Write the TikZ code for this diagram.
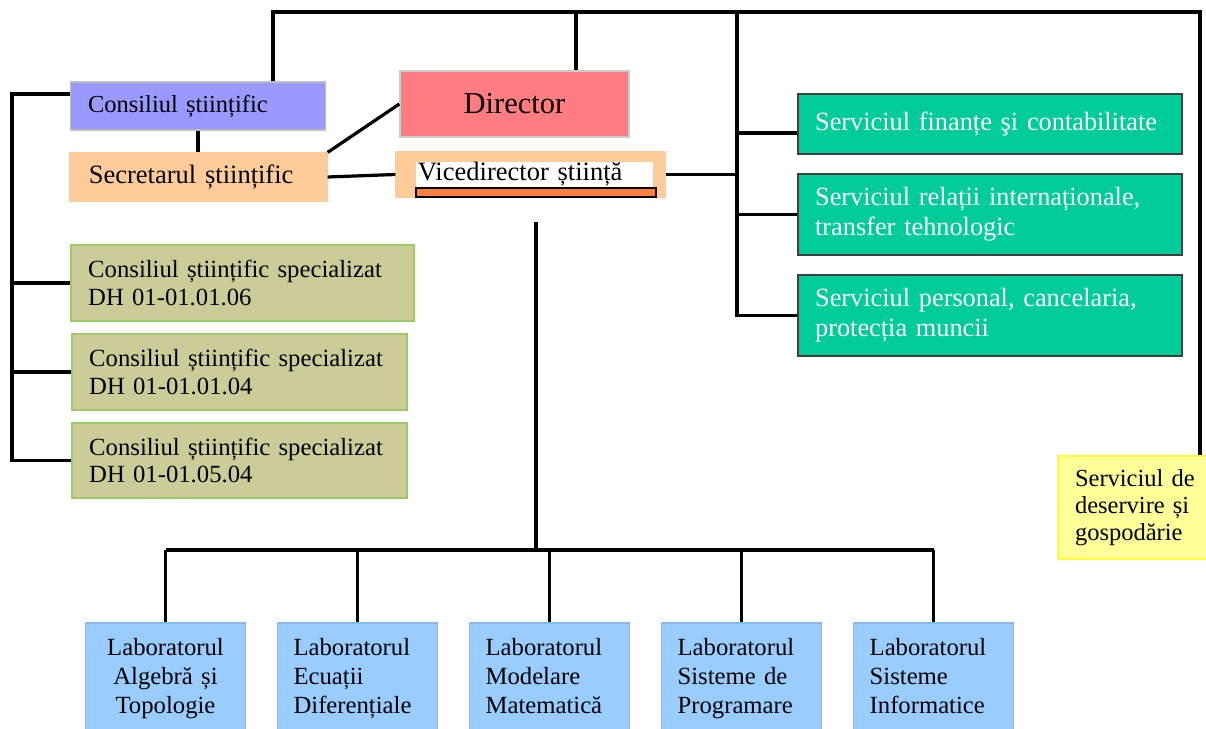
\documentclass[tikz,border=0pt]{standalone}
\usepackage{fontspec}
\setmainfont{Liberation Serif}
\usetikzlibrary{calc,positioning}

\definecolor{consblue}{HTML}{9999FF}
\definecolor{peach}{HTML}{FFCC99}
\definecolor{dirpink}{HTML}{FF7C80}
\definecolor{olive}{HTML}{CCCC99}
\definecolor{olivedraw}{HTML}{99CC66}
\definecolor{teal}{HTML}{00CC99}
\definecolor{labblue}{HTML}{99CCFF}
\definecolor{labdraw}{HTML}{88BBEE}
\definecolor{servyellow}{HTML}{FFFF99}
\definecolor{servdraw}{HTML}{FFFF33}
\definecolor{barorange}{HTML}{FF7F40}

\begin{document}
\begin{tikzpicture}[
	x=0.0175cm, y=-0.0175cm,
	line width=1.6pt,
	unitbox/.style={rectangle, inner xsep=0.3cm, inner ysep=0pt, align=left, line width=0.6pt},
	consnode/.style={unitbox, fill=consblue, draw=gray!50, font=\fontsize{12.2}{14}\selectfont},
	secrnode/.style={unitbox, fill=peach, draw=peach, font=\fontsize{13.2}{15}\selectfont},
	specnode/.style={unitbox, fill=olive, draw=olivedraw, font=\fontsize{12.3}{13.5}\selectfont},
	servnode/.style={unitbox, fill=teal, draw=black!75, text=white, font=\fontsize{13.1}{15}\selectfont},
	labnode/.style={unitbox, fill=labblue, draw=labdraw, inner xsep=0.28cm, text width=2.24cm, minimum height=2.01cm, font=\fontsize{12.3}{14.4}\selectfont},
	node distance=0.54cm
	]
	\useasboundingbox (0,0) rectangle (1206,729);
	%Nodes
	\node[consnode, text width=3.85cm, minimum height=0.84cm] (cons) at (198,106) {Consiliul științific};
	\node[secrnode, inner xsep=0.33cm, text width=3.84cm, minimum height=0.84cm] (secr) at (198.5,177) {Secretarul științific};
	\node[rectangle, fill=dirpink, draw=gray!40, line width=0.6pt, minimum width=4.01cm, minimum height=1.155cm, font=\fontsize{15.2}{17}\selectfont] (dir) at (514.5,104) {Director};
	\node[rectangle, fill=peach, draw=peach, line width=0.6pt, inner sep=0pt, minimum width=4.71cm, minimum height=0.79cm] (vice) at (530.5,174.5) {};
	\node[rectangle, fill=white, inner xsep=0.035cm, inner ysep=0pt, text width=4.08cm, minimum height=0.44cm, align=left, font=\fontsize{13.2}{15}\selectfont] (vicetext) at (534.5,174.5) {Vicedirector știință};
	\draw[line width=0.6pt, fill=barorange] (416,188) rectangle (656,197);

	\node[specnode, text width=5.4cm, minimum height=1.33cm] (spec1) at (242.5,283) {Consiliul științific specializat\\DH 01-01.01.06};
	\node[specnode, text width=5.26cm, minimum height=1.33cm] (spec2) at (239.5,372) {Consiliul științific specializat\\DH 01-01.01.04};
	\node[specnode, text width=5.26cm, minimum height=1.31cm] (spec3) at (239.5,460.5) {Consiliul științific specializat\\DH 01-01.05.04};

	\node[servnode, text width=6.12cm, minimum height=1.05cm] (fin) at (990,124) {Serviciul finanțe şi contabilitate};
	\node[servnode, text width=6.12cm, minimum height=1.42cm] (rel) at (990,214.5) {Serviciul relații internaționale,\\transfer tehnologic};
	\node[servnode, text width=6.12cm, minimum height=1.42cm] (pers) at (990,315.5) {Serviciul personal, cancelaria,\\protecția muncii};
	\node[unitbox, fill=servyellow, draw=servdraw, line width=1pt, text width=2.1cm, minimum height=1.8cm, font=\fontsize{12.2}{13.3}\selectfont] (gosp) at (1135,507.5) {Serviciul de\\deservire și\\gospodărie};

	\node[labnode, align=center] (lab1) at (165.5,680.5) {Laboratorul\\Algebră și\\Topologie\strut};
	\node[labnode] (lab2) [right=of lab1] {Laboratorul\\Ecuații\\Diferențiale\strut};
	\node[labnode] (lab3) [right=of lab2] {Laboratorul\\Modelare\\Matematică\strut};
	\node[labnode] (lab4) [right=of lab3] {Laboratorul\\Sisteme de\\Programare\strut};
	\node[labnode] (lab5) [right=of lab4] {Laboratorul\\Sisteme\\Informatice\strut};

	%Lines
	\coordinate (topleft) at (273,12);
	\coordinate (topright) at (1200,12);
	\coordinate (dirtop) at (576,12);
	\coordinate (rbus) at (737,12);
	\coordinate (lbus) at (12,94);
	\coordinate (consin) at ($(cons.west)+(0,-12)$);
	\coordinate (finin) at ($(fin.west)+(0,9)$);
	\coordinate (vdrop) at (536,222);
	\coordinate (labbus) at (536,550);

	\draw (topleft |- cons.north) -- (topleft) -- (topright) -- (topright |- gosp.north);
	\draw (dirtop) -- (dirtop |- dir.north);
	\draw (cons.south) -- (cons.south |- secr.north);
	\draw (secr.north east) -- (dir.west);
	\draw (secr.east) -- (vice.west);
	\draw (vice.east) -- (vice.east -| rbus);
	% right column
	\draw (rbus) -- (rbus |- pers.west) -- (pers.west);
	\draw (rbus |- finin) -- (finin);
	\draw (rbus |- rel.west) -- (rel.west);
	% left column
	\draw (consin) -- (lbus |- consin) -- (lbus |- spec3.west) -- (spec3.west);
	\draw (lbus |- spec1.west) -- (spec1.west);
	\draw (lbus |- spec2.west) -- (spec2.west);
	% laboratories
	\draw (vdrop) -- (labbus);
	\draw (lab1.north |- labbus) -- (lab5.north |- labbus);
	\foreach \i in {1,...,5}
		\draw (lab\i.north |- labbus) -- (lab\i.north);
\end{tikzpicture}
\end{document}
